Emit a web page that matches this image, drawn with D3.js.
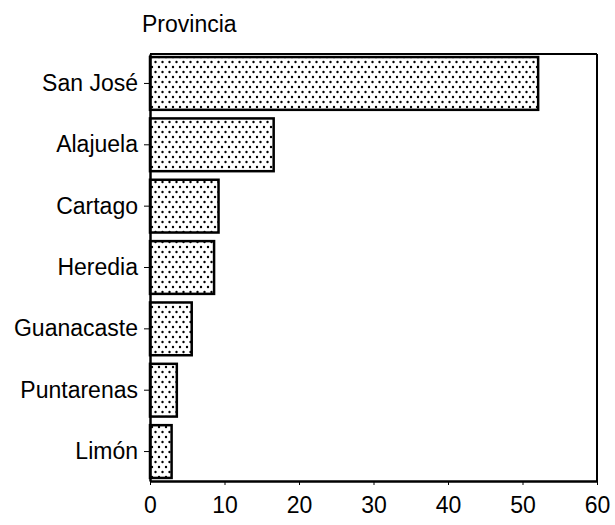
<!DOCTYPE html>
<html>
<head>
<meta charset="utf-8">
<script src="https://cdn.jsdelivr.net/npm/d3@7/dist/d3.min.js"></script>
<style>
  body { margin: 0; background: #fff; }
  svg { display: block; }
</style>
</head>
<body>
<svg id="svg" width="615" height="525"></svg>
<script>
var provincias = ["San José", "Alajuela", "Cartago", "Heredia", "Guanacaste", "Puntarenas", "Limón"];
var valores = [52.1, 16.6, 9.2, 8.6, 5.6, 3.6, 2.9];
var xTicks = [0, 10, 20, 30, 40, 50, 60];

var svg = d3.select("svg");
var plotLeft = 150, plotRight = 597, plotTop = 54, plotBottom = 481;
var font = "Liberation Sans, Arial, sans-serif";

// dotted fill
var pat = svg.append("defs").append("pattern")
    .attr("id", "dots")
    .attr("patternUnits", "userSpaceOnUse")
    .attr("width", 7).attr("height", 10);
pat.append("circle").attr("cx", 1.5).attr("cy", 2).attr("r", 1.2).attr("fill", "#000");
pat.append("circle").attr("cx", 5).attr("cy", 7).attr("r", 1.2).attr("fill", "#000");

var x = d3.scaleLinear().domain([0, 60]).range([plotLeft, plotRight]);
var y = d3.scaleBand().domain(provincias).range([plotTop, plotBottom])
    .paddingInner(0.14).paddingOuter(0.05);

svg.selectAll("rect.bar")
    .data(provincias)
    .enter().append("rect")
    .attr("class", "bar")
    .attr("x", x(0))
    .attr("y", function(d) { return y(d); })
    .attr("width", function(d, i) { return x(valores[i]) - x(0); })
    .attr("height", y.bandwidth())
    .attr("fill", "url(#dots)")
    .attr("stroke", "#000")
    .attr("stroke-width", 2.5);

// frame top and right
svg.append("line").attr("x1", plotLeft).attr("x2", plotRight).attr("y1", plotTop).attr("y2", plotTop)
    .attr("stroke", "#000").attr("stroke-width", 2);
svg.append("line").attr("x1", plotRight).attr("x2", plotRight).attr("y1", plotTop).attr("y2", plotBottom)
    .attr("stroke", "#000").attr("stroke-width", 2);

svg.append("g")
    .attr("transform", "translate(0," + plotBottom + ")")
    .call(d3.axisBottom(x).tickValues(xTicks).tickSize(4).tickPadding(12).tickSizeOuter(0));

svg.append("g")
    .attr("transform", "translate(" + plotLeft + ",0)")
    .call(d3.axisLeft(y).tickSize(6).tickPadding(6).tickSizeOuter(0));

svg.selectAll(".domain").attr("stroke", "#000").attr("stroke-width", 2.5);
svg.selectAll(".tick line").attr("stroke", "#000").attr("stroke-width", 1);
svg.selectAll(".tick text").attr("fill", "#000")
    .style("font-family", font).style("font-size", "23px");

svg.append("text")
    .attr("x", 142).attr("y", 32)
    .style("font-family", font).style("font-size", "23px")
    .text("Provincia");
</script>
</body>
</html>
